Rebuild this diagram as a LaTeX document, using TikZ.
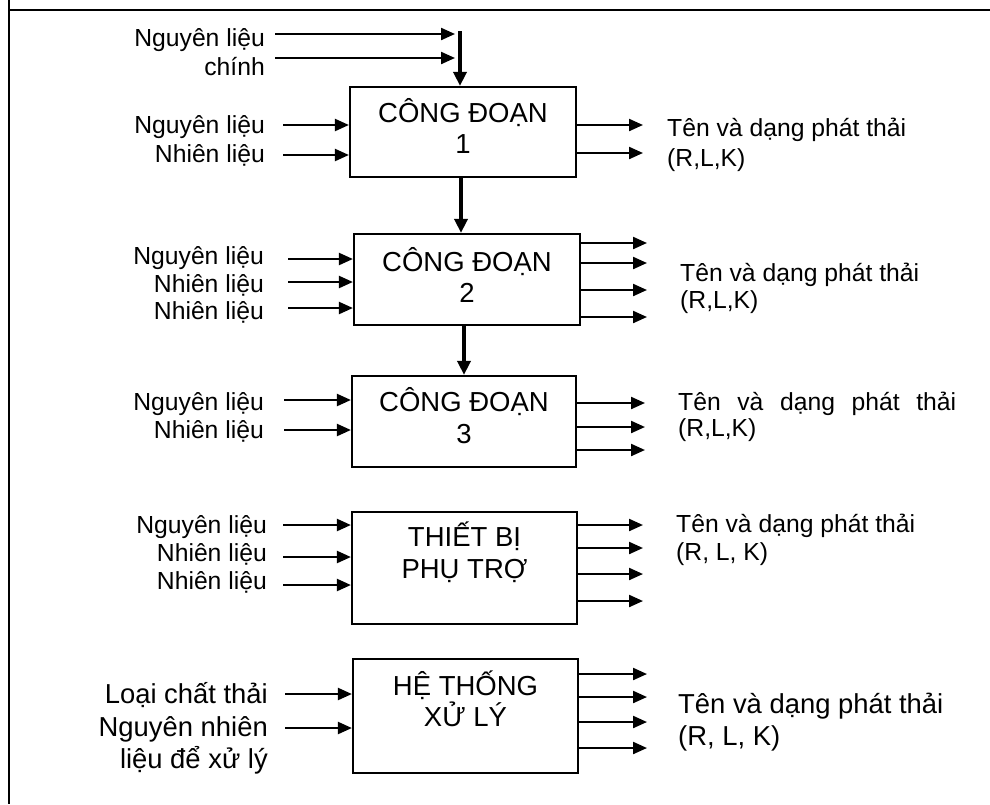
\documentclass[tikz,border=0pt]{standalone}
\usepackage{fontspec}
\setmainfont{Liberation Sans}
\usetikzlibrary{arrows.meta}
\begin{document}
\begin{tikzpicture}[x=1pt,y=-1pt,
  box/.style={draw, line width=2.2pt, rectangle, inner sep=0pt},
  arr/.style={line width=2.2pt, -{Triangle[length=14pt,width=12pt]}},
  thickarr/.style={line width=3.6pt, -{Triangle[length=14pt,width=13pt]}},
  lab/.style={inner sep=0pt, font=\fontsize{24.7}{28}\selectfont},
  biglab/.style={inner sep=0pt, font=\fontsize{27.4}{32}\selectfont},
  boxtxt/.style={inner sep=0pt, font=\fontsize{27.5}{32}\selectfont, anchor=base},
]
\useasboundingbox (0,0) rectangle (990,804);
% frame
\draw[line width=2.8pt] (9,0) -- (9,804);
\draw[line width=2.8pt] (8,10) -- (990,10);

% boxes
\node[box, minimum width=226pt, minimum height=90pt] (b1) at (463,132) {};
\node[box, minimum width=226pt, minimum height=91pt] (b2) at (467,279.5) {};
\node[box, minimum width=224pt, minimum height=91pt] (b3) at (464,421.5) {};
\node[box, minimum width=225pt, minimum height=112pt] (b4) at (464.5,568) {};
\node[box, minimum width=225pt, minimum height=114pt] (b5) at (465.5,716) {};

% box texts
\node[boxtxt] (t1a) at (463,122) {CÔNG ĐOẠN};
\node[boxtxt] (t1b) at (463,153) {1};
\node[boxtxt] (t2a) at (467,271) {CÔNG ĐOẠN};
\node[boxtxt] (t2b) at (467,302) {2};
\node[boxtxt] (t3a) at (464,411) {CÔNG ĐOẠN};
\node[boxtxt] (t3b) at (464,443) {3};
\node[boxtxt] (t4a) at (464.5,546) {THIẾT BỊ};
\node[boxtxt] (t4b) at (464.5,578) {PHỤ TRỢ};
\node[boxtxt] (t5a) at (465.5,695) {HỆ THỐNG};
\node[boxtxt] (t5b) at (465.5,726) {XỬ LÝ};

% main raw material into box 1
\coordinate (top) at (460,31);
\draw[thickarr] (top) -- (top |- b1.north);
\foreach \y [count=\i] in {34,58} {
  \coordinate (ts\i) at (275,\y);
  \coordinate (te\i) at (455,\y);
  \draw[arr] (ts\i) -- (te\i);
}
\node[lab, anchor=base east] (lt1) at (265,46.5) {Nguyên liệu};
\node[lab, anchor=base east] (lt2) at (265,75) {chính};

% box 1 inputs / outputs
\foreach \y [count=\i] in {125,155} {
  \coordinate (b1in\i) at (283,\y);
  \draw[arr] (b1in\i) -- (b1in\i -| b1.west);
}
\foreach \y [count=\i] in {125,153} {
  \coordinate (b1out\i) at (643,\y);
  \draw[arr] (b1out\i -| b1.east) -- (b1out\i);
}
\node[lab, anchor=base east] (l11) at (265,133) {Nguyên liệu};
\node[lab, anchor=base east] (l12) at (265,162) {Nhiên liệu};
\node[lab, anchor=base west] (r11) at (667,136) {Tên và dạng phát thải};
\node[lab, anchor=base west] (r12) at (667,166) {(R,L,K)};

% box 1 -> box 2
\draw[thickarr] ([xshift=-2pt]b1.south) -- ([xshift=-2pt]b1.south |- b2.north);

% box 2 inputs / outputs
\foreach \y [count=\i] in {259,282,308} {
  \coordinate (b2in\i) at (288,\y);
  \draw[arr] (b2in\i) -- (b2in\i -| b2.west);
}
\foreach \y [count=\i] in {243,263,290,317} {
  \coordinate (b2out\i) at (647,\y);
  \draw[arr] (b2out\i -| b2.east) -- (b2out\i);
}
\node[lab, anchor=base east] (l21) at (264,264) {Nguyên liệu};
\node[lab, anchor=base east] (l22) at (264,292) {Nhiên liệu};
\node[lab, anchor=base east] (l23) at (264,319) {Nhiên liệu};
\node[lab, anchor=base west] (r21) at (680,281) {Tên và dạng phát thải};
\node[lab, anchor=base west] (r22) at (680,308) {(R,L,K)};

% box 2 -> box 3
\draw[thickarr] ([xshift=-3pt]b2.south) -- ([xshift=-3pt]b2.south |- b3.north);

% box 3 inputs / outputs
\foreach \y [count=\i] in {400,430} {
  \coordinate (b3in\i) at (284,\y);
  \draw[arr] (b3in\i) -- (b3in\i -| b3.west);
}
\foreach \y [count=\i] in {403,427,450} {
  \coordinate (b3out\i) at (645,\y);
  \draw[arr] (b3out\i -| b3.east) -- (b3out\i);
}
\node[lab, anchor=base east] (l31) at (264,410) {Nguyên liệu};
\node[lab, anchor=base east] (l32) at (264,438) {Nhiên liệu};
\node[lab, anchor=base west] (r31) at (678,410) {\makebox[278pt][s]{Tên và dạng phát thải}};
\node[lab, anchor=base west] (r32) at (678,436) {(R,L,K)};

% box 4 inputs / outputs
\foreach \y [count=\i] in {525,557,585} {
  \coordinate (b4in\i) at (283,\y);
  \draw[arr] (b4in\i) -- (b4in\i -| b4.west);
}
\foreach \y [count=\i] in {525,548,574,601} {
  \coordinate (b4out\i) at (643,\y);
  \draw[arr] (b4out\i -| b4.east) -- (b4out\i);
}
\node[lab, anchor=base east] (l41) at (267,533) {Nguyên liệu};
\node[lab, anchor=base east] (l42) at (267,561) {Nhiên liệu};
\node[lab, anchor=base east] (l43) at (267,589) {Nhiên liệu};
\node[lab, anchor=base west] (r41) at (676,532) {Tên và dạng phát thải};
\node[lab, anchor=base west] (r42) at (676,560) {(R, L, K)};

% box 5 inputs / outputs
\foreach \y [count=\i] in {694,728} {
  \coordinate (b5in\i) at (285,\y);
  \draw[arr] (b5in\i) -- (b5in\i -| b5.west);
}
\foreach \y [count=\i] in {674,697,722,748} {
  \coordinate (b5out\i) at (647,\y);
  \draw[arr] (b5out\i -| b5.east) -- (b5out\i);
}
\node[biglab, anchor=base east] (l51) at (268,703) {Loại chất thải};
\node[biglab, anchor=base east] (l52) at (268,736) {Nguyên nhiên};
\node[biglab, anchor=base east] (l53) at (268,768) {liệu để xử lý};
\node[biglab, anchor=base west] (r51) at (678,713) {Tên và dạng phát thải};
\node[biglab, anchor=base west] (r52) at (678,745) {(R, L, K)};
\end{tikzpicture}
\end{document}
